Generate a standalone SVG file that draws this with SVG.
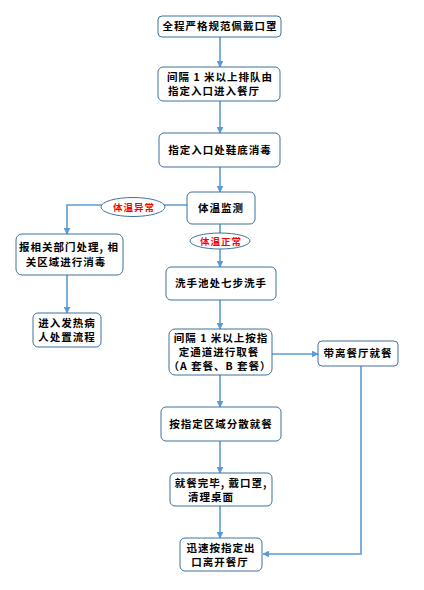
<svg xmlns="http://www.w3.org/2000/svg" width="424" height="590" viewBox="0 0 424 590">
<defs>
<marker id="ah" viewBox="0 0 10 10" refX="9" refY="5" markerWidth="7" markerHeight="7" orient="auto" markerUnits="userSpaceOnUse">
<path d="M0,0 L10,5 L0,10 z" fill="#5B9BD5"/>
</marker>
<style>
.box{fill:#fff;stroke:#41719C;stroke-width:1}
.ell{fill:#fff;stroke:#41719C;stroke-width:1}
.t{font-family:"Noto Sans CJK SC","Liberation Sans",sans-serif;font-size:10.5px;font-weight:bold;fill:#000;text-anchor:middle;letter-spacing:1px}
.r{fill:#FF0000;font-size:9.5px}
.c{fill:none;stroke:#5B9BD5;stroke-width:1.6}
</style>
</defs>
<rect width="424" height="590" fill="#fff"/>
<g id="connectors">
<line class="c" x1="220" y1="37" x2="220" y2="67" marker-end="url(#ah)"/>
<line class="c" x1="220" y1="101" x2="220" y2="133" marker-end="url(#ah)"/>
<line class="c" x1="220" y1="167" x2="220" y2="192" marker-end="url(#ah)"/>
<polyline class="c" points="187,205 67,205 67,234" marker-end="url(#ah)"/>
<line class="c" x1="220" y1="224" x2="220" y2="267" marker-end="url(#ah)"/>
<line class="c" x1="67" y1="275" x2="67" y2="313" marker-end="url(#ah)"/>
<line class="c" x1="220" y1="300" x2="220" y2="329" marker-end="url(#ah)"/>
<line class="c" x1="272" y1="354" x2="318" y2="354" marker-end="url(#ah)"/>
<line class="c" x1="220" y1="375" x2="220" y2="407" marker-end="url(#ah)"/>
<line class="c" x1="220" y1="441" x2="220" y2="473" marker-end="url(#ah)"/>
<line class="c" x1="220" y1="506" x2="220" y2="538" marker-end="url(#ah)"/>
<polyline class="c" points="361,366 361,554 263,554" marker-end="url(#ah)"/>
</g>
<g id="n1"><rect class="box" x="158" y="16" width="123" height="21" rx="4"/><text class="t" x="220" y="30">全程严格规范佩戴口罩</text></g>
<g id="n2"><rect class="box" x="158" y="67" width="122" height="34" rx="5"/><text class="t" x="220" y="81">间隔 1 米以上排队由</text><text class="t" x="214" y="95">指定入口进入餐厅</text></g>
<g id="n3"><rect class="box" x="159" y="133" width="121" height="34" rx="5"/><text class="t" x="220" y="154">指定入口处鞋底消毒</text></g>
<g id="n4"><rect class="box" x="187" y="192" width="68" height="32" rx="5"/><text class="t" x="221" y="212">体温监测</text></g>
<g id="e1"><ellipse class="ell" cx="133" cy="207" rx="32" ry="9.5"/><text class="t r" x="134" y="211">体温异常</text></g>
<g id="e2"><ellipse class="ell" cx="220" cy="241" rx="30" ry="8"/><text class="t r" x="221" y="245">体温正常</text></g>
<g id="n5"><rect class="box" x="16" y="234" width="107" height="41" rx="6"/><text class="t" x="69" y="251">报相关部门处理, 相</text><text class="t" x="66" y="266">关区域进行消毒</text></g>
<g id="n6"><rect class="box" x="33" y="313" width="68" height="34" rx="5"/><text class="t" x="67" y="327">进入发热病</text><text class="t" x="67" y="341">人处置流程</text></g>
<g id="n7"><rect class="box" x="166" y="267" width="110" height="33" rx="5"/><text class="t" x="221" y="287">洗手池处七步洗手</text></g>
<g id="n8"><rect class="box" x="169" y="329" width="103" height="46" rx="6"/><text class="t" x="221" y="342">间隔 1 米以上按指</text><text class="t" x="219" y="356">定通道进行取餐</text><text class="t" x="220" y="370">（A 套餐、B 套餐）</text></g>
<g id="n9"><rect class="box" x="318" y="341" width="80" height="25" rx="4"/><text class="t" x="358" y="357">带离餐厅就餐</text></g>
<g id="n10"><rect class="box" x="161" y="407" width="120" height="34" rx="5"/><text class="t" x="221" y="428">按指定区域分散就餐</text></g>
<g id="n11"><rect class="box" x="170" y="473" width="102" height="33" rx="5"/><text class="t" x="221" y="487">就餐完毕, 戴口罩,</text><text class="t" x="211" y="501">清理桌面</text></g>
<g id="n12"><rect class="box" x="180" y="538" width="82" height="33" rx="5"/><text class="t" x="221" y="552">迅速按指定出</text><text class="t" x="220" y="566">口离开餐厅</text></g>
</svg>
